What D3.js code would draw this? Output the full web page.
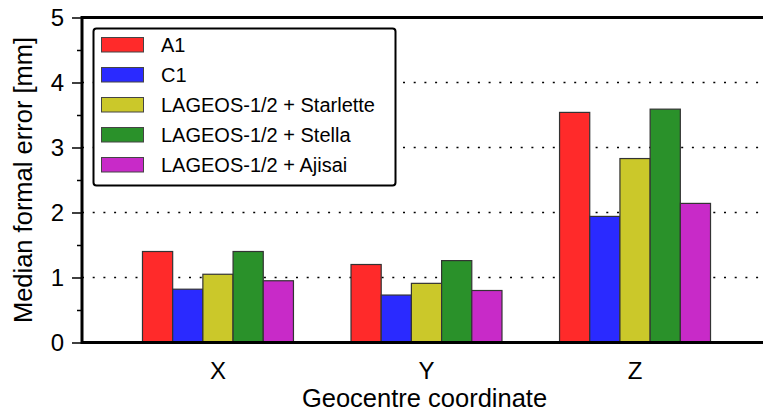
<!DOCTYPE html>
<html><head><meta charset="utf-8">
<script src="https://cdn.jsdelivr.net/npm/d3@7"></script>
<style>body{margin:0;background:#fff}svg{display:block;font-family:"Liberation Sans",Arial,sans-serif}</style>
</head><body><svg id="c" width="763" height="414"></svg>
<script>
const categories = ["X", "Y", "Z"];
const seriesNames = ["A1", "C1", "LAGEOS-1/2 + Starlette", "LAGEOS-1/2 + Stella", "LAGEOS-1/2 + Ajisai"];
const seriesColors = ["#ff2a2a", "#2a2aff", "#cbc82a", "#2a912a", "#c82ac8"];
const valuesA1 = [1.40, 1.20, 3.54];
const valuesC1 = [0.82, 0.73, 1.94];
const valuesStarlette = [1.05, 0.91, 2.83];
const valuesStella = [1.40, 1.26, 3.59];
const valuesAjisai = [0.95, 0.80, 2.14];
const yTicks = [0, 1, 2, 3, 4, 5];
const yMinorTicks = [0.5, 1.5, 2.5, 3.5, 4.5];
const gridTicks = [1, 2, 3, 4];

const series = [valuesA1, valuesC1, valuesStarlette, valuesStella, valuesAjisai];
const svg = d3.select("#c");
const pLeft = 82, pRight = 771, pTop = 17.5, pBottom = 342.5;

const x = d3.scaleBand().domain(categories).range([pLeft, pRight]).paddingInner(0.276).paddingOuter(0.29);
const xs = d3.scaleBand().domain(d3.range(series.length)).range([0, x.bandwidth()]);
const y = d3.scaleLinear().domain([0, 5]).range([pBottom, pTop]);

// grid
svg.append("g").selectAll("line").data(gridTicks).join("line")
  .attr("x1", pLeft).attr("x2", 763).attr("y1", d => y(d)).attr("y2", d => y(d))
  .attr("stroke", "#000").attr("stroke-width", 1.5).attr("stroke-dasharray", "2,8.7");

// bars
const gb = svg.append("g");
categories.forEach((c, ci) => {
  series.forEach((s, si) => {
    gb.append("rect")
      .attr("x", x(c) + xs(si)).attr("width", xs.bandwidth())
      .attr("y", y(s[ci])).attr("height", y(0) - y(s[ci]))
      .attr("fill", seriesColors[si]).attr("stroke", "#333").attr("stroke-width", 1.2);
  });
});

// axes
const yAxis = d3.axisLeft(y).tickValues(yTicks).tickSize(10).tickPadding(8).tickFormat(d3.format("d"));
const ga = svg.append("g").attr("transform", `translate(${pLeft},0)`).call(yAxis);
ga.select(".domain").remove();
ga.selectAll("line").attr("stroke-width", 1.5);
ga.selectAll("text").attr("font-size", 24).attr("fill", "#000");
const yMinor = d3.axisLeft(y).tickValues(yMinorTicks).tickSize(5).tickFormat("");
const gm = svg.append("g").attr("transform", `translate(${pLeft},0)`).call(yMinor);
gm.select(".domain").remove();
gm.selectAll("line").attr("stroke-width", 1.5);

const xAxis = d3.axisBottom(x).tickSize(0).tickPadding(19);
const gx = svg.append("g").attr("transform", `translate(0,${pBottom})`).call(xAxis);
gx.select(".domain").remove();
gx.selectAll("text").attr("font-size", 24).attr("fill", "#000");

// frame lines
svg.append("line").attr("x1", pLeft).attr("x2", 763).attr("y1", pBottom).attr("y2", pBottom).attr("stroke", "#000").attr("stroke-width", 3);
svg.append("line").attr("x1", pLeft).attr("x2", 763).attr("y1", pTop).attr("y2", pTop).attr("stroke", "#000").attr("stroke-width", 3);
svg.append("line").attr("x1", pLeft).attr("x2", pLeft).attr("y1", pTop - 1.5).attr("y2", pBottom + 1.5).attr("stroke", "#000").attr("stroke-width", 3);

// titles
svg.append("text").attr("x", (pLeft + 771) / 2 - 2).attr("y", 407).attr("text-anchor", "middle")
  .attr("font-size", 25.5).text("Geocentre coordinate");
svg.append("text").attr("transform", `translate(32,${(pTop + pBottom) / 2}) rotate(-90)`).attr("text-anchor", "middle")
  .attr("font-size", 25.5).text("Median formal error [mm]");

// legend
const lg = svg.append("g");
lg.append("rect").attr("x", 93.5).attr("y", 28.5).attr("width", 302).attr("height", 157).attr("rx", 3)
  .attr("fill", "#fff").attr("stroke", "#000").attr("stroke-width", 2);
seriesNames.forEach((n, i) => {
  const cy = 45 + i * 30;
  lg.append("rect").attr("x", 101.5).attr("y", cy - 7.5).attr("width", 42).attr("height", 14.5)
    .attr("fill", seriesColors[i]).attr("stroke", "#444").attr("stroke-width", 1);
  lg.append("text").attr("x", 161).attr("y", cy).attr("dy", "0.35em").attr("font-size", 20).text(n);
});
</script></body></html>
